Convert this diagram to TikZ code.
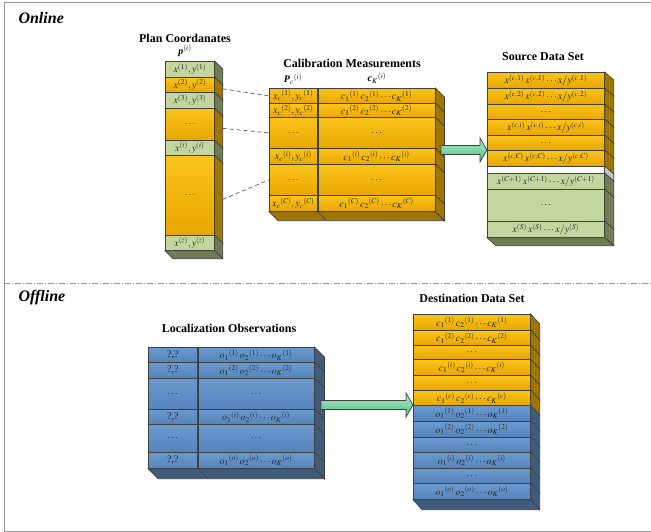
\documentclass[tikz,border=0pt]{standalone}
\usepackage{mathptmx}
\usepackage[no-math]{fontspec}
\setmainfont{Liberation Serif}
\usetikzlibrary{calc}

\definecolor{orgT}{RGB}{250,196,28}
\definecolor{orgB}{RGB}{232,166,0}
\definecolor{orgS}{RGB}{158,118,0}
\definecolor{grnF}{RGB}{196,214,160}
\definecolor{grnS}{RGB}{112,124,84}
\definecolor{bluT}{RGB}{106,154,206}
\definecolor{bluB}{RGB}{84,132,186}
\definecolor{bluS}{RGB}{64,92,124}
\definecolor{whtS}{RGB}{200,200,200}
\definecolor{rowline}{RGB}{64,64,64}
\definecolor{arrT}{RGB}{180,236,202}
\definecolor{arrB}{RGB}{78,188,128}
\definecolor{framegray}{RGB}{150,150,150}

\tikzset{
  cell/.style={draw=rowline, line width=.7pt, inner sep=0pt, anchor=north west,
    text=black!85, font=\fontsize{10}{11}\selectfont},
  org/.style={cell, top color=orgT, bottom color=orgB},
  grn/.style={cell, fill=grnF},
  blu/.style={cell, top color=bluT, bottom color=bluB},
  wht/.style={cell, fill=white},
  face/.style={draw=rowline, line width=.7pt},
  title/.style={font=\fontsize{12}{14}\selectfont\bfseries},
  sub/.style={font=\fontsize{10}{11}\selectfont},
  part/.style={font=\fontsize{16}{18}\selectfont\bfseries\itshape, anchor=west},
  link/.style={draw=black!65, dash pattern=on 4pt off 3pt, line width=.7pt},
  bigarrow/.style={draw=rowline, line width=.7pt, top color=arrT, bottom color=arrB},
}

\begin{document}
\begin{tikzpicture}[x=1pt,y=-1pt]
    \useasboundingbox (0,0) rectangle (651,532);
    \draw[framegray, line width=1pt] (651,3) -- (4,3) -- (4,531) -- (651,531);
    \draw[framegray, line width=1pt, dash pattern=on 6pt off 2pt on 1pt off 2pt] (4,283) -- (651,283);

    \node[part] (online) at (15,18) {Online};
    \node[part] (offline) at (15,298) {Offline};

    % plan coordinates
    \node[title] (plantitle) at (185,38) {Plan Coordanates};
    \node[sub] (plansub) at (185,51) {$\textbf{\textit{p}}^{(i)}$};
    \foreach \t/\h/\st/\sd/\lab [count=\n] in {61/16/grn/grnS/{$x^{(1)},y^{(1)}$},
        77/15/org/orgS/{$x^{(2)},y^{(2)}$}, 92/16/grn/grnS/{$x^{(3)},y^{(3)}$},
        108/32/org/orgS/{$\cdots$}, 140/15/grn/grnS/{$x^{(i)},y^{(i)}$},
        155/80/org/orgS/{$\cdots$}, 235/15/grn/grnS/{$x^{(z)},y^{(z)}$}}{
        \node[\st, minimum width=49pt, minimum height=\h pt] (p\n) at (165,\t) {\lab};
        \filldraw[face, fill=\sd] (p\n.north east) -- ++(8,8) -- ([shift={(8,8)}]p\n.south east) -- (p\n.south east) -- cycle;
    }
    \filldraw[face, fill=grnS] (p7.south west) -- ++(8,8) -- ([shift={(8,8)}]p7.south east) -- (p7.south east) -- cycle;

    % calibration measurements
    \node[title] (caltitle) at (352,63) {Calibration Measurements};
    \node[sub] (calsubl) at (293,79) {$\textbf{\textit{P}}_c{}^{(i)}$};
    \node[sub] (calsubr) at (377,78) {$\textbf{\textit{c}}_K{}^{(i)}$};
    \foreach \t/\h/\la/\lb [count=\n] in {88/15/{$x_c{}^{(1)},y_c{}^{(1)}$}/{$c_1{}^{(1)}\,c_2{}^{(1)}\cdots c_K{}^{(1)}$},
        103/14/{$x_c{}^{(2)},y_c{}^{(2)}$}/{$c_1{}^{(2)}\,c_2{}^{(2)}\cdots c_K{}^{(2)}$},
        117/31/{$\cdots$}/{$\cdots$},
        148/16/{$x_c{}^{(i)},y_c{}^{(i)}$}/{$c_1{}^{(i)}\,c_2{}^{(i)}\cdots c_K{}^{(i)}$},
        164/31/{$\cdots$}/{$\cdots$},
        195/16/{$x_c{}^{(C)},y_c{}^{(C)}$}/{$c_1{}^{(C)}\,c_2{}^{(C)}\cdots c_K{}^{(C)}$}}{
        \node[org, minimum width=48pt, minimum height=\h pt] (cl\n) at (269,\t) {\la};
        \node[org, minimum width=117pt, minimum height=\h pt] (cr\n) at (cl\n.north east) {\lb};
        \filldraw[face, fill=orgS] (cr\n.north east) -- ++(9,9) -- ([shift={(9,9)}]cr\n.south east) -- (cr\n.south east) -- cycle;
    }
    \filldraw[face, fill=orgS] (cl6.south west) -- ++(9,9) -- ([shift={(9,9)}]cr6.south east) -- (cr6.south east) -- cycle;
    \draw[face] (cr6.south west) -- ++(9,9);

    \draw[link] ([shift={(8,4)}]p2.east) -- (cl1.west);
    \draw[link] ([shift={(8,4)}]p4.east) -- (cl3.west);
    \draw[link] ([shift={(8,4)}]p6.east) -- (cl5.west);

    % source data set
    \node[title] (srctitle) at (543,57) {Source Data Set};
    \foreach \t/\h/\st/\sd/\lab [count=\n] in {72/16/org/orgS/{$x^{(c,1)}\,x^{(c,1)}\cdots x/y^{(c,1)}$},
        88/16/org/orgS/{$x^{(c,2)}\,x^{(c,2)}\cdots x/y^{(c,2)}$},
        104/15/org/orgS/{$\cdots$},
        119/16/org/orgS/{$x^{(c,i)}\,x^{(c,i)}\cdots x/y^{(c,i)}$},
        135/15/org/orgS/{$\cdots$},
        150/16/org/orgS/{$x^{(c,C)}\,x^{(c,C)}\cdots x/y^{(c,C)}$},
        166/7/wht/whtS/{},
        173/16/grn/grnS/{$x^{(C+1)}\,x^{(C+1)}\cdots x/y^{(C+1)}$},
        189/32/grn/grnS/{$\cdots$},
        221/16/grn/grnS/{$x^{(S)}\,x^{(S)}\cdots x/y^{(S)}$}}{
        \node[\st, minimum width=117pt, minimum height=\h pt] (s\n) at (487,\t) {\lab};
        \filldraw[face, fill=\sd] (s\n.north east) -- ++(9,8) -- ([shift={(9,8)}]s\n.south east) -- (s\n.south east) -- cycle;
    }
    \filldraw[face, fill=grnS] (s10.south west) -- ++(9,8) -- ([shift={(9,8)}]s10.south east) -- (s10.south east) -- cycle;

    % localization observations
    \node[title] (obstitle) at (229,328) {Localization Observations};
    \foreach \t/\h/\la/\lb [count=\n] in {347/15/{?,?}/{$o_1{}^{(1)}\,o_2{}^{(1)}\cdots o_K{}^{(1)}$},
        362/16/{?,?}/{$o_1{}^{(2)}\,o_2{}^{(2)}\cdots o_K{}^{(2)}$},
        378/31/{$\cdots$}/{$\cdots$},
        409/15/{?,?}/{$o_1{}^{(i)}\,o_2{}^{(i)}\cdots o_K{}^{(i)}$},
        424/28/{$\cdots$}/{$\cdots$},
        452/16/{?,?}/{$o_1{}^{(o)}\,o_2{}^{(o)}\cdots o_K{}^{(o)}$}}{
        \node[blu, minimum width=49pt, minimum height=\h pt] (ol\n) at (148,\t) {\la};
        \node[blu, minimum width=116pt, minimum height=\h pt] (or\n) at (ol\n.north east) {\lb};
        \filldraw[face, fill=bluS] (or\n.north east) -- ++(10,10) -- ([shift={(10,10)}]or\n.south east) -- (or\n.south east) -- cycle;
    }
    \filldraw[face, fill=bluS] (ol6.south west) -- ++(10,10) -- ([shift={(10,10)}]or6.south east) -- (or6.south east) -- cycle;
    \draw[face] (or6.south west) -- ++(10,10);

    % destination data set
    \node[title] (dsttitle) at (472,298) {Destination Data Set};
    \foreach \t/\h/\st/\sd/\lab [count=\n] in {314/16/org/orgS/{$c_1{}^{(1)}\,c_2{}^{(1)}\cdots c_K{}^{(1)}$},
        330/15/org/orgS/{$c_1{}^{(2)}\,c_2{}^{(2)}\cdots c_K{}^{(2)}$},
        345/14/org/orgS/{$\cdots$},
        359/16/org/orgS/{$c_1{}^{(i)}\,c_2{}^{(i)}\cdots c_K{}^{(i)}$},
        375/15/org/orgS/{$\cdots$},
        390/15/org/orgS/{$c_1{}^{(c)}\,c_2{}^{(c)}\cdots c_K{}^{(c)}$},
        405/16/blu/bluS/{$o_1{}^{(1)}\,o_2{}^{(1)}\cdots o_K{}^{(1)}$},
        421/16/blu/bluS/{$o_1{}^{(2)}\,o_2{}^{(2)}\cdots o_K{}^{(2)}$},
        437/15/blu/bluS/{$\cdots$},
        452/16/blu/bluS/{$o_1{}^{(i)}\,o_2{}^{(i)}\cdots o_K{}^{(i)}$},
        468/15/blu/bluS/{$\cdots$},
        483/16/blu/bluS/{$o_1{}^{(o)}\,o_2{}^{(o)}\cdots o_K{}^{(o)}$}}{
        \node[\st, minimum width=117pt, minimum height=\h pt] (d\n) at (413,\t) {\lab};
        \filldraw[face, fill=\sd] (d\n.north east) -- ++(9,10) -- ([shift={(9,10)}]d\n.south east) -- (d\n.south east) -- cycle;
    }
    \filldraw[face, fill=bluS] (d12.south west) -- ++(9,10) -- ([shift={(9,10)}]d12.south east) -- (d12.south east) -- cycle;

    % block arrows
    \coordinate (calout) at (441,150);
    \coordinate (obsout) at (321,405);
    \path[bigarrow] let \p1=(calout), \p2=(s6.north west) in
        (\x1,\y2+4.5pt) -- (\x2-7pt,\y2+4.5pt) -- (\x2-7pt,\y2+12pt) -- (\x2,\y2)
        -- (\x2-7pt,\y2-12pt) -- (\x2-7pt,\y2-4.5pt) -- (\x1,\y2-4.5pt) -- cycle;
    \path[bigarrow] let \p1=(obsout), \p2=(d7.north west) in
        (\x1,\y2+4.5pt) -- (\x2-7pt,\y2+4.5pt) -- (\x2-7pt,\y2+12pt) -- (\x2,\y2)
        -- (\x2-7pt,\y2-12pt) -- (\x2-7pt,\y2-4.5pt) -- (\x1,\y2-4.5pt) -- cycle;
\end{tikzpicture}
\end{document}
